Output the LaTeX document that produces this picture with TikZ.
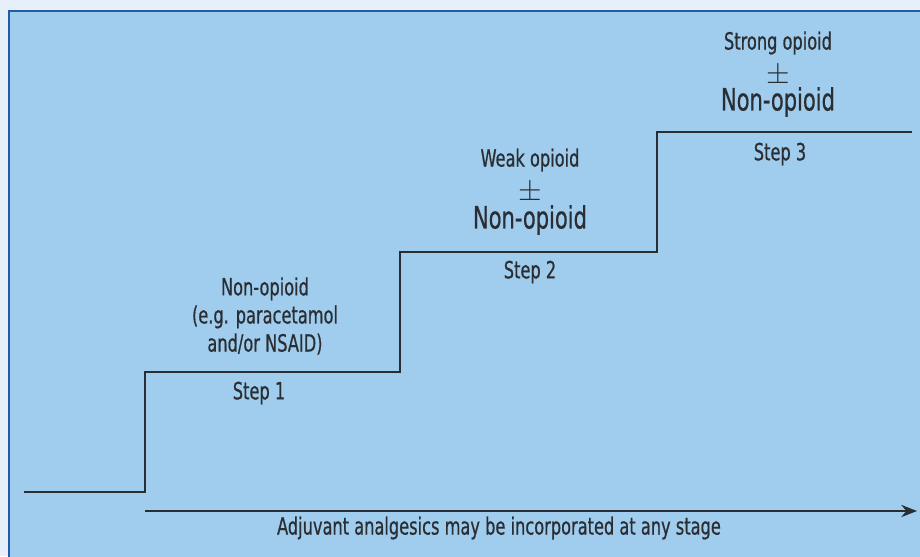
\documentclass[tikz,border=0pt]{standalone}
\usepackage{fontspec}
\setmainfont{DejaVu Sans Condensed}[FakeStretch=0.76, FakeBold=0.6]
\usetikzlibrary{arrows.meta}
\definecolor{pagebg}{HTML}{E7F0FA}
\definecolor{panelblue}{HTML}{A0CDEE}
\definecolor{frameblue}{HTML}{1F5DA6}
\definecolor{inkgray}{HTML}{2A2E33}
\tikzset{
  drug/.style={text=inkgray, font=\fontsize{13.5}{16}\selectfont, align=center, inner sep=0pt},
  bigdrug/.style={text=inkgray, font=\fontsize{17.5}{20}\selectfont, inner sep=0pt},
  plusminus/.style={text=inkgray, font=\fontsize{17}{18}\selectfont, inner sep=0pt},
  steplabel/.style={text=inkgray, font=\fontsize{13.5}{16}\selectfont, inner sep=0pt},
  stair/.style={draw=inkgray, line width=0.8pt},
}
\begin{document}
\begin{tikzpicture}[x=0.02cm,y=-0.02cm]
  \useasboundingbox (0,0) rectangle (920,556);
  \fill[pagebg] (0,0) rectangle (920,556);

  % panel with frame, cut off at right and bottom
  \begin{scope}
    \clip (0,0) rectangle (920,556);
    \draw[frameblue, line width=1.2pt, fill=panelblue] (9,11) rectangle (950,590);
  \end{scope}

  % the three steps of the ladder
  \coordinate (s0) at (24,492);
  \coordinate (s1) at (145,372);
  \coordinate (s2) at (400,252);
  \coordinate (s3) at (657,132);
  \coordinate (s4) at (912,132);
  \draw[stair] (s0) -| (s1) -| (s2) -| (s3) -- (s4);

  % Step 1
  \node[drug] (nonop) at (265,316) {Non-opioid\\(e.g. paracetamol\\and/or NSAID)};
  \node[steplabel] (step1) at (259,393) {Step 1};

  % Step 2
  \node[drug] (weak) at (530,160) {Weak opioid};
  \node[plusminus] (pmweak) at (530,193) {$\pm$};
  \node[bigdrug] (nonopweak) at (530,220) {Non-opioid};
  \node[steplabel] (step2) at (530,272) {Step 2};

  % Step 3
  \node[drug] (strong) at (778,43) {Strong opioid};
  \node[plusminus] (pmstrong) at (778,76) {$\pm$};
  \node[bigdrug] (nonopstrong) at (778,102) {Non-opioid};
  \node[steplabel] (step3) at (780,154) {Step 3};

  % adjuvant arrow along the bottom
  \coordinate (adjstart) at (145,511);
  \coordinate (adjend) at (917,511);
  \draw[stair, -{Stealth[length=9pt, width=7pt]}] (adjstart) -- (adjend);
  \node[drug] (adjuvant) at (499,528) {Adjuvant analgesics may be incorporated at any stage};
\end{tikzpicture}
\end{document}
